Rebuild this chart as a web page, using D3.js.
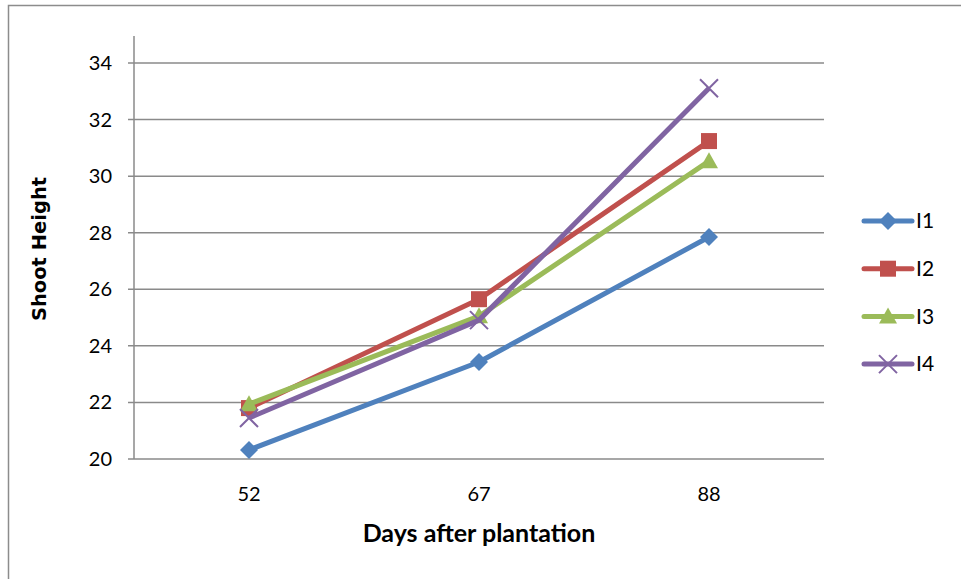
<!DOCTYPE html>
<html>
<head>
<meta charset="utf-8">
<script src="https://cdn.jsdelivr.net/npm/d3@7"></script>
<style>
  body { margin: 0; background: #fff; }
  svg text { font-family: Lato, "Open Sans", sans-serif; fill: #000; }
</style>
</head>
<body>
<div id="graphic"></div>
<script>
// data
var days = ["52", "67", "88"];
var seriesNames = ["I1", "I2", "I3", "I4"];
var I1 = [20.32, 23.43, 27.85];
var I2 = [21.8, 25.65, 31.24];
var I3 = [21.94, 25.05, 30.53];
var I4 = [21.45, 24.91, 33.11];
var yTicks = [20, 22, 24, 26, 28, 30, 32, 34];
var colours = ["#4F81BD", "#C0504D", "#9BBB59", "#8064A2"];
var markers = ["diamond", "square", "triangle", "cross"];

var series = [I1, I2, I3, I4].map(function(vals, i) {
  return { name: seriesNames[i], values: vals, colour: colours[i], marker: markers[i] };
});

var width = 961, height = 579;
var margin = { top: 36, left: 134, right: 138, bottom: 120 };

var svg = d3.select('#graphic').append('svg')
  .attr('width', width)
  .attr('height', height);

// outer chart frame
svg.append('rect')
  .attr('x', 8.5).attr('y', 5.5)
  .attr('width', 1000).attr('height', 1000)
  .attr('fill', 'none')
  .attr('stroke', '#8c8c8c')
  .attr('stroke-width', 1.5);

var x = d3.scaleBand()
  .domain(days)
  .range([margin.left, 824]);

var y = d3.scaleLinear()
  .domain([20, 34])
  .range([459, 63]);

// gridlines
svg.append('g')
  .selectAll('line')
  .data(yTicks)
  .join('line')
  .attr('x1', margin.left - 6)
  .attr('x2', 824)
  .attr('y1', d => y(d))
  .attr('y2', d => y(d))
  .attr('stroke', '#8a8a8a')
  .attr('stroke-width', 1.5);

// y axis line
svg.append('line')
  .attr('x1', margin.left).attr('x2', margin.left)
  .attr('y1', margin.top).attr('y2', y(20))
  .attr('stroke', '#8a8a8a')
  .attr('stroke-width', 1.5);

// y tick labels
svg.append('g')
  .selectAll('text')
  .data(yTicks)
  .join('text')
  .attr('x', 112)
  .attr('y', d => y(d))
  .attr('dy', '0.35em')
  .attr('text-anchor', 'end')
  .style('font-size', '20px')
  .text(d => d);

// x tick labels
svg.append('g')
  .selectAll('text')
  .data(days)
  .join('text')
  .attr('x', d => x(d) + x.bandwidth() / 2)
  .attr('y', 494)
  .attr('dy', '0.35em')
  .attr('text-anchor', 'middle')
  .style('font-size', '20px')
  .text(d => d);

// axis titles
svg.append('text')
  .attr('transform', 'translate(39,249) rotate(-90)')
  .attr('dy', '0.35em')
  .attr('text-anchor', 'middle')
  .style('font-family', '"DejaVu Sans", sans-serif')
  .style('font-size', '19.5px')
  .style('font-weight', 'bold')
  .text('Shoot Height');

svg.append('text')
  .attr('x', 479)
  .attr('y', 533)
  .attr('dy', '0.35em')
  .attr('text-anchor', 'middle')
  .style('font-size', '25px')
  .style('font-weight', 'bold')
  .text('Days after plantation');

function drawMarker(g, type, colour) {
  if (type == "diamond") {
    g.append('path').attr('d', 'M0,-9L9,0L0,9L-9,0Z').attr('fill', colour);
  } else if (type == "square") {
    g.append('rect').attr('x', -8).attr('y', -8).attr('width', 16).attr('height', 16).attr('fill', colour);
  } else if (type == "triangle") {
    g.append('path').attr('d', 'M0,-9L9,7L-9,7Z').attr('fill', colour);
  } else {
    g.append('path').attr('d', 'M-9,-9L9,9M-9,9L9,-9')
      .attr('stroke', colour).attr('stroke-width', 2).attr('fill', 'none');
  }
}

var line = d3.line()
  .x((d, i) => x(days[i]) + x.bandwidth() / 2)
  .y(d => y(d));

var lines = svg.append('g').selectAll('g')
  .data(series)
  .join('g');

lines.append('path')
  .attr('d', d => line(d.values))
  .attr('fill', 'none')
  .attr('stroke', d => d.colour)
  .attr('stroke-width', 5)
  .attr('stroke-linejoin', 'round');

lines.each(function(s) {
  d3.select(this).selectAll('g.pt')
    .data(s.values)
    .join('g')
    .attr('class', 'pt')
    .attr('transform', (d, i) => 'translate(' + (x(days[i]) + x.bandwidth() / 2) + ',' + y(d) + ')')
    .each(function() { drawMarker(d3.select(this), s.marker, s.colour); });
});

// legend
var legend = svg.append('g').selectAll('g')
  .data(series)
  .join('g')
  .attr('transform', (d, i) => 'translate(864,' + (221 + i * 47.7) + ')');

legend.append('line')
  .attr('x1', 0).attr('x2', 48)
  .attr('stroke', d => d.colour)
  .attr('stroke-width', 5)
  .attr('stroke-linecap', 'round');

legend.each(function(s) {
  var g = d3.select(this).append('g').attr('transform', 'translate(24,0)');
  drawMarker(g, s.marker, s.colour);
});

legend.append('text')
  .attr('x', 52)
  .attr('dy', '0.35em')
  .style('font-size', '21px')
  .text(d => d.name);
</script>
</body>
</html>
